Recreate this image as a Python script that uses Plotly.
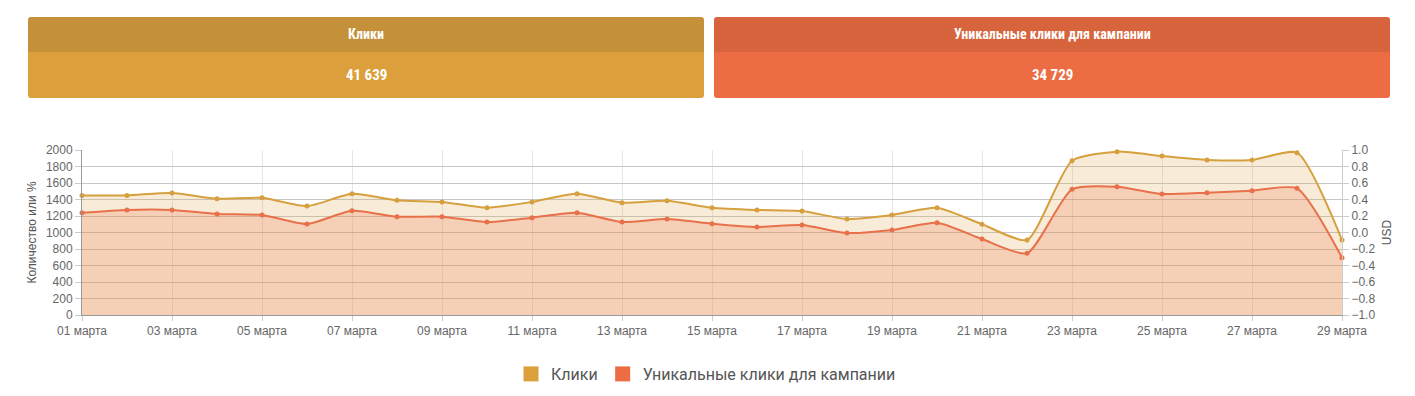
import plotly.graph_objects as go

dates = [f"{d:02d} марта" for d in range(1, 30)]
tick_dates = dates[::2]

clicks = [1450, 1450, 1480, 1410, 1420, 1320, 1470, 1390, 1370, 1300,
          1370, 1470, 1360, 1385, 1300, 1273, 1260, 1164, 1212, 1300,
          1100, 909, 1870, 1980, 1927, 1879, 1879, 1967, 909]
unique_clicks = [1240, 1273, 1273, 1224, 1212, 1103, 1264, 1192, 1192, 1127,
                 1180, 1240, 1127, 1164, 1107, 1067, 1091, 994, 1030, 1119,
                 921, 748, 1523, 1555, 1467, 1483, 1507, 1535, 695]

name_clicks = "Клики"
name_unique = "Уникальные клики для кампании"
total_clicks = "41 639"
total_unique = "34 729"

Y_COLOR = "#d6a03e"
O_COLOR = "#e8704a"

OFF = 8  # browser body margin
W, H = 1415 - 2 * OFF, 396 - 2 * OFF
L, R, T, B = 82 - OFF, 1342 - OFF, 150 - OFF, 315 - OFF


def px_x(p):
    return (p - OFF - L) / (R - L)


def px_y(p):
    return (B - (p - OFF)) / (B - T)


fig = go.Figure()
fig.add_trace(go.Scatter(
    x=dates, y=clicks, mode="lines+markers", name=name_clicks,
    line=dict(color=Y_COLOR, width=2, shape="spline", smoothing=0.6),
    marker=dict(color=Y_COLOR, size=5), fill="tozeroy",
    fillcolor="rgba(219,160,58,0.20)", showlegend=False, cliponaxis=False))
fig.add_trace(go.Scatter(
    x=dates, y=unique_clicks, mode="lines+markers", name=name_unique,
    line=dict(color=O_COLOR, width=2, shape="spline", smoothing=0.6),
    marker=dict(color=O_COLOR, size=5), fill="tozeroy",
    fillcolor="rgba(236,108,67,0.22)", showlegend=False, cliponaxis=False))
# invisible trace to show the right axis
fig.add_trace(go.Scatter(x=[dates[0]], y=[None], yaxis="y2", showlegend=False,
                         hoverinfo="skip", mode="lines"))
# legend entries
fig.add_trace(go.Scatter(x=[None], y=[None], mode="markers", name=name_clicks,
                         marker=dict(symbol="square", size=15, color="#dba03b")))
fig.add_trace(go.Scatter(x=[None], y=[None], mode="markers", name=name_unique,
                         marker=dict(symbol="square", size=15, color="#ec6c43")))

tick_font = dict(family="Liberation Sans, Arial, sans-serif", size=12, color="#666")
head_font = "Liberation Sans Narrow, Roboto Condensed, Roboto, sans-serif"


def rounded_rect(x0, x1, y0, y1, r, top=True, bottom=True):
    X = px_x
    Y = px_y
    rt = r if top else 0
    rb = r if bottom else 0
    path = (f"M {X(x0 + rt)},{Y(y0)} L {X(x1 - rt)},{Y(y0)} "
            f"Q {X(x1)},{Y(y0)} {X(x1)},{Y(y0 + rt)} "
            f"L {X(x1)},{Y(y1 - rb)} Q {X(x1)},{Y(y1)} {X(x1 - rb)},{Y(y1)} "
            f"L {X(x0 + rb)},{Y(y1)} Q {X(x0)},{Y(y1)} {X(x0)},{Y(y1 - rb)} "
            f"L {X(x0)},{Y(y0 + rt)} Q {X(x0)},{Y(y0)} {X(x0 + rt)},{Y(y0)} Z")
    return path


shapes = []
annotations = []
boxes = [
    (28, 704, "#c5903a", "#dba03b", name_clicks, total_clicks),
    (714, 1390, "#d8643e", "#ec6c43", name_unique, total_unique),
]
for x0, x1, ctop, cbot, title, val in boxes:
    shapes.append(dict(type="path", xref="paper", yref="paper",
                       path=rounded_rect(x0, x1, 17, 52, 3, top=True, bottom=False),
                       fillcolor=ctop, line=dict(width=0), layer="above"))
    shapes.append(dict(type="path", xref="paper", yref="paper",
                       path=rounded_rect(x0, x1, 52, 98, 3, top=False, bottom=True),
                       fillcolor=cbot, line=dict(width=0), layer="above"))
    cx = px_x((x0 + x1) / 2)
    annotations.append(dict(x=cx, y=px_y(34), xref="paper", yref="paper",
                            xanchor="center", yanchor="middle",
                            text=f"<b>{title}</b>", showarrow=False,
                            font=dict(family=head_font, size=14, color="white")))
    annotations.append(dict(x=cx, y=px_y(75), xref="paper", yref="paper",
                            xanchor="center", yanchor="middle",
                            text=f"<b>{val}</b>", showarrow=False,
                            font=dict(family=head_font, size=15, color="white")))

fig.update_layout(
    width=W, height=H,
    margin=dict(l=L, r=W - R, t=T, b=H - B, pad=0, autoexpand=False),
    plot_bgcolor="white", paper_bgcolor="white",
    font=dict(family="Liberation Sans, Arial, sans-serif", color="#666"),
    xaxis=dict(type="category", range=[0, 28], tickmode="array", tickvals=tick_dates,
               ticktext=tick_dates, showgrid=True, gridcolor="#e6e6e6", gridwidth=1,
               showline=True, linecolor="#999", ticks="outside", ticklen=5,
               tickcolor="#ccc", tickfont=tick_font, zeroline=False),
    yaxis=dict(range=[0, 2000], dtick=200, showgrid=True, gridcolor="#c8c8c8",
               showline=True, linecolor="#999", ticks="outside", ticklen=6,
               tickcolor="#ccc", tickfont=tick_font, zeroline=False,
               title=dict(text="Количество или %", standoff=6,
                          font=dict(family="Liberation Sans, Arial, sans-serif",
                                    size=12, color="#555"))),
    yaxis2=dict(range=[-1, 1], dtick=0.2, overlaying="y", side="right", showgrid=False,
                tickformat=".1f", showline=True, linecolor="#ccc", ticks="outside",
                ticklen=6, tickcolor="#ccc", tickfont=tick_font, zeroline=False,
                title=dict(text="USD", standoff=8,
                           font=dict(family="Liberation Sans, Arial, sans-serif",
                                     size=12, color="#555"))),
    legend=dict(orientation="h", x=0.5 - 6 / (R - L), xanchor="center",
                yref="container", y=(H - (374 - OFF)) / H, yanchor="middle",
                font=dict(family="Roboto, sans-serif", size=16, color="#555"),
                itemsizing="trace", tracegroupgap=0, itemwidth=30),
    shapes=shapes, annotations=annotations,
)

fig.write_html("out.html")
